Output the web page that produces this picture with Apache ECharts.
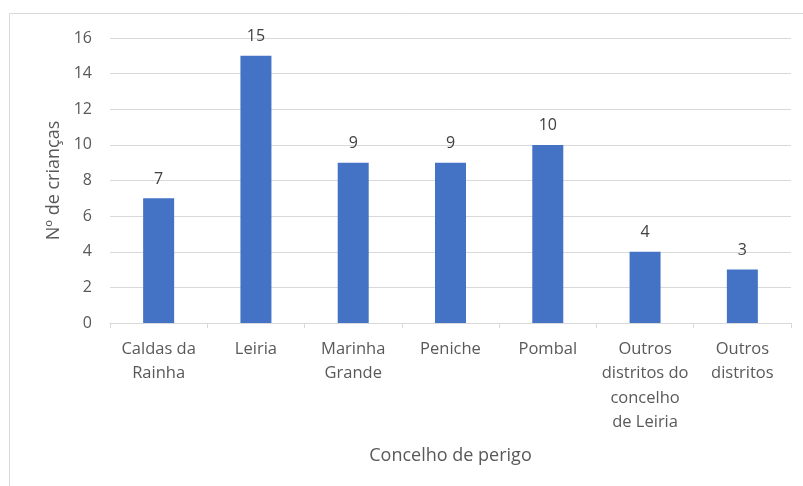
<!DOCTYPE html>
<html><head><meta charset="utf-8">
<script src="https://cdn.jsdelivr.net/npm/echarts@6/dist/echarts.min.js"></script>
<style>html,body{margin:0;padding:0;background:#fff}#c{width:803px;height:486px}</style>
</head><body><div id="c"></div>
<script>
const categories = ['Caldas da\nRainha', 'Leiria', 'Marinha\nGrande', 'Peniche', 'Pombal', 'Outros\ndistritos do\nconcelho\nde Leiria', 'Outros\ndistritos'];
const values = [7, 15, 9, 9, 10, 4, 3];
const yTicks = [0, 2, 4, 6, 8, 10, 12, 14, 16];

const chart = echarts.init(document.getElementById('c'), null, {renderer: 'canvas'});
const font = 'Open Sans, Noto Sans, sans-serif';
chart.setOption({
  animation: false,
  textStyle: {fontFamily: font},
  graphic: [{
    type: 'polyline',
    shape: {points: [[9.5, 486], [9.5, 13.5], [803, 13.5]]},
    style: {stroke: '#d9d9d9', lineWidth: 1, fill: null}
  }],
  grid: {left: 110, right: 12, top: 38, bottom: 163},
  xAxis: {
    type: 'category',
    data: categories,
    name: 'Concelho de perigo',
    nameLocation: 'middle',
    nameGap: 124,
    nameTextStyle: {color: '#595959', fontSize: 18, fontFamily: font},
    axisLine: {lineStyle: {color: '#d9d9d9'}},
    axisTick: {show: true, length: 5, lineStyle: {color: '#d9d9d9'}},
    axisLabel: {color: '#595959', fontSize: 16.5, lineHeight: 24.5, margin: 14, interval: 0, fontFamily: font}
  },
  yAxis: {
    type: 'value',
    min: yTicks[0], max: yTicks[yTicks.length - 1], interval: 2,
    name: 'Nº de crianças',
    nameLocation: 'middle',
    nameGap: 47,
    nameTextStyle: {color: '#595959', fontSize: 18, fontFamily: font},
    axisLine: {show: false},
    axisTick: {show: false},
    splitLine: {lineStyle: {color: '#d9d9d9'}},
    axisLabel: {color: '#595959', fontSize: 16, margin: 18, fontFamily: font}
  },
  series: [{
    type: 'bar',
    data: values,
    barWidth: 31,
    itemStyle: {color: '#4472c4'},
    label: {show: true, position: 'top', distance: 11, color: '#404040', fontSize: 16, fontFamily: font}
  }]
});
</script></body></html>
